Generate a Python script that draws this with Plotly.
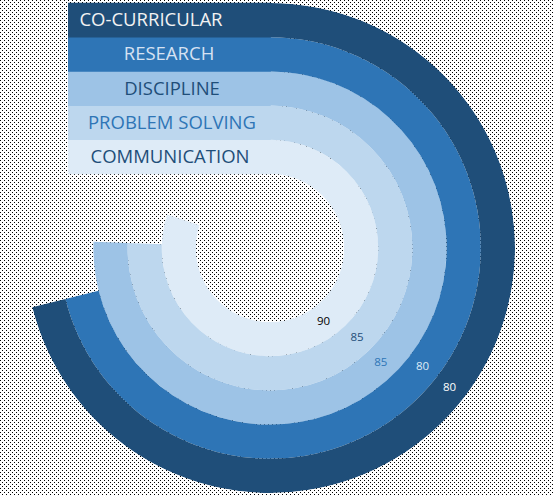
import base64
import struct
import zlib

import numpy as np
import plotly.graph_objects as go

# ---------------- data ----------------
categories = ["COMMUNICATION", "PROBLEM SOLVING", "DISCIPLINE", "RESEARCH", "CO-CURRICULAR"]
values = [90, 85, 85, 80, 80]
ring_colors = ["#DEEBF7", "#BDD7EE", "#9DC3E6", "#2E75B6", "#1F4E79"]
name_colors = ["#1F4E79", "#2E75B6", "#1F4E79", "#D6E2F3", "#F2F2F2"]
value_colors = ["#000000", "#1F4E79", "#2E75B6", "#DEEBF7", "#FFFFFF"]
full_scale = 112.5  # value that would close a full circle

# ---------------- layout constants (pixels) ----------------
W, H = 554, 496
CX, CY = 270, 248          # centre of the rings (from top-left)
R_OUT, R_IN = 245, 74      # outer radius, hole radius
BAND_LEFT = 68
LABEL_X = [170, 172, 172, 169, 151]   # horizontal centre of each name label
LABEL_DY = 1.5                         # small downward nudge of name labels
n = len(categories)
T = (R_OUT - R_IN) / n


# ---------------- dotted background as PNG ----------------
def dotted_png(w, h):
    img = np.full((h, w), 255, dtype=np.uint8)
    ys, xs = np.mgrid[0:h, 0:w]
    mask = (ys % 2 == 0) & (((xs + (ys // 2 % 2) * 2) % 4) == 0)
    img[mask] = 0
    raw = b"".join(b"\x00" + img[r].tobytes() for r in range(h))

    def chunk(tag, data):
        c = struct.pack(">I", len(data)) + tag + data
        return c + struct.pack(">I", zlib.crc32(tag + data) & 0xFFFFFFFF)

    png = b"\x89PNG\r\n\x1a\n"
    png += chunk(b"IHDR", struct.pack(">IIBBBBB", w, h, 8, 0, 0, 0, 0))
    png += chunk(b"IDAT", zlib.compress(raw, 9))
    png += chunk(b"IEND", b"")
    return "data:image/png;base64," + base64.b64encode(png).decode()


deg = [v * 360.0 / full_scale for v in values]

fig = go.Figure()

# rings
fig.add_trace(go.Barpolar(
    r=[1] * n,
    base=list(range(n)),
    theta=[d / 2 for d in deg],
    width=deg,
    marker=dict(color=ring_colors, line=dict(width=0)),
    hoverinfo="skip",
    showlegend=False,
))

# value labels at the middle of each arc
fig.add_trace(go.Scatterpolar(
    r=[i + 0.5 for i in range(n)],
    theta=[d / 2 for d in deg],
    mode="text",
    text=[str(v) for v in values],
    textfont=dict(family="Open Sans", size=11.5, color=value_colors),
    hoverinfo="skip",
    showlegend=False,
))

# name bands on the left (continuing each ring towards the left)
band_y = [CY - (R_IN + T * (i + 0.5)) for i in range(n)]
fig.add_trace(go.Bar(
    orientation="h",
    y=band_y,
    x=[CX - BAND_LEFT + 1] * n,
    base=[BAND_LEFT] * n,
    width=[T + 0.6] * n,
    marker=dict(color=ring_colors, line=dict(width=0)),
    hoverinfo="skip",
    showlegend=False,
    xaxis="x", yaxis="y",
))

# category names inside the bands
fig.add_trace(go.Scatter(
    x=LABEL_X,
    y=[y + LABEL_DY for y in band_y],
    mode="text",
    text=categories,
    textposition="middle center",
    textfont=dict(family="Open Sans", size=18.5, color=name_colors),
    hoverinfo="skip",
    showlegend=False,
    xaxis="x", yaxis="y",
))

fig.update_layout(
    width=W, height=H,
    margin=dict(l=0, r=0, t=0, b=0),
    paper_bgcolor="rgba(0,0,0,0)",
    plot_bgcolor="rgba(0,0,0,0)",
    showlegend=False,
    hovermode=False,
    xaxis=dict(domain=[0, 1], range=[0, W], visible=False, fixedrange=True),
    yaxis=dict(domain=[0, 1], range=[H, 0], visible=False, fixedrange=True),
    polar=dict(
        domain=dict(x=[(CX - R_OUT) / W, (CX + R_OUT) / W],
                    y=[(H - CY - R_OUT) / H, (H - CY + R_OUT) / H]),
        hole=R_IN / R_OUT,
        bgcolor="rgba(0,0,0,0)",
        radialaxis=dict(range=[0, n], visible=False),
        angularaxis=dict(rotation=90, direction="clockwise", visible=False),
        barmode="overlay",
    ),
    images=[dict(source=dotted_png(W, H), xref="paper", yref="paper",
                 x=0, y=1, sizex=1, sizey=1, sizing="stretch",
                 xanchor="left", yanchor="top", layer="below")],
)

fig.write_html("out.html", config={"displayModeBar": False})
